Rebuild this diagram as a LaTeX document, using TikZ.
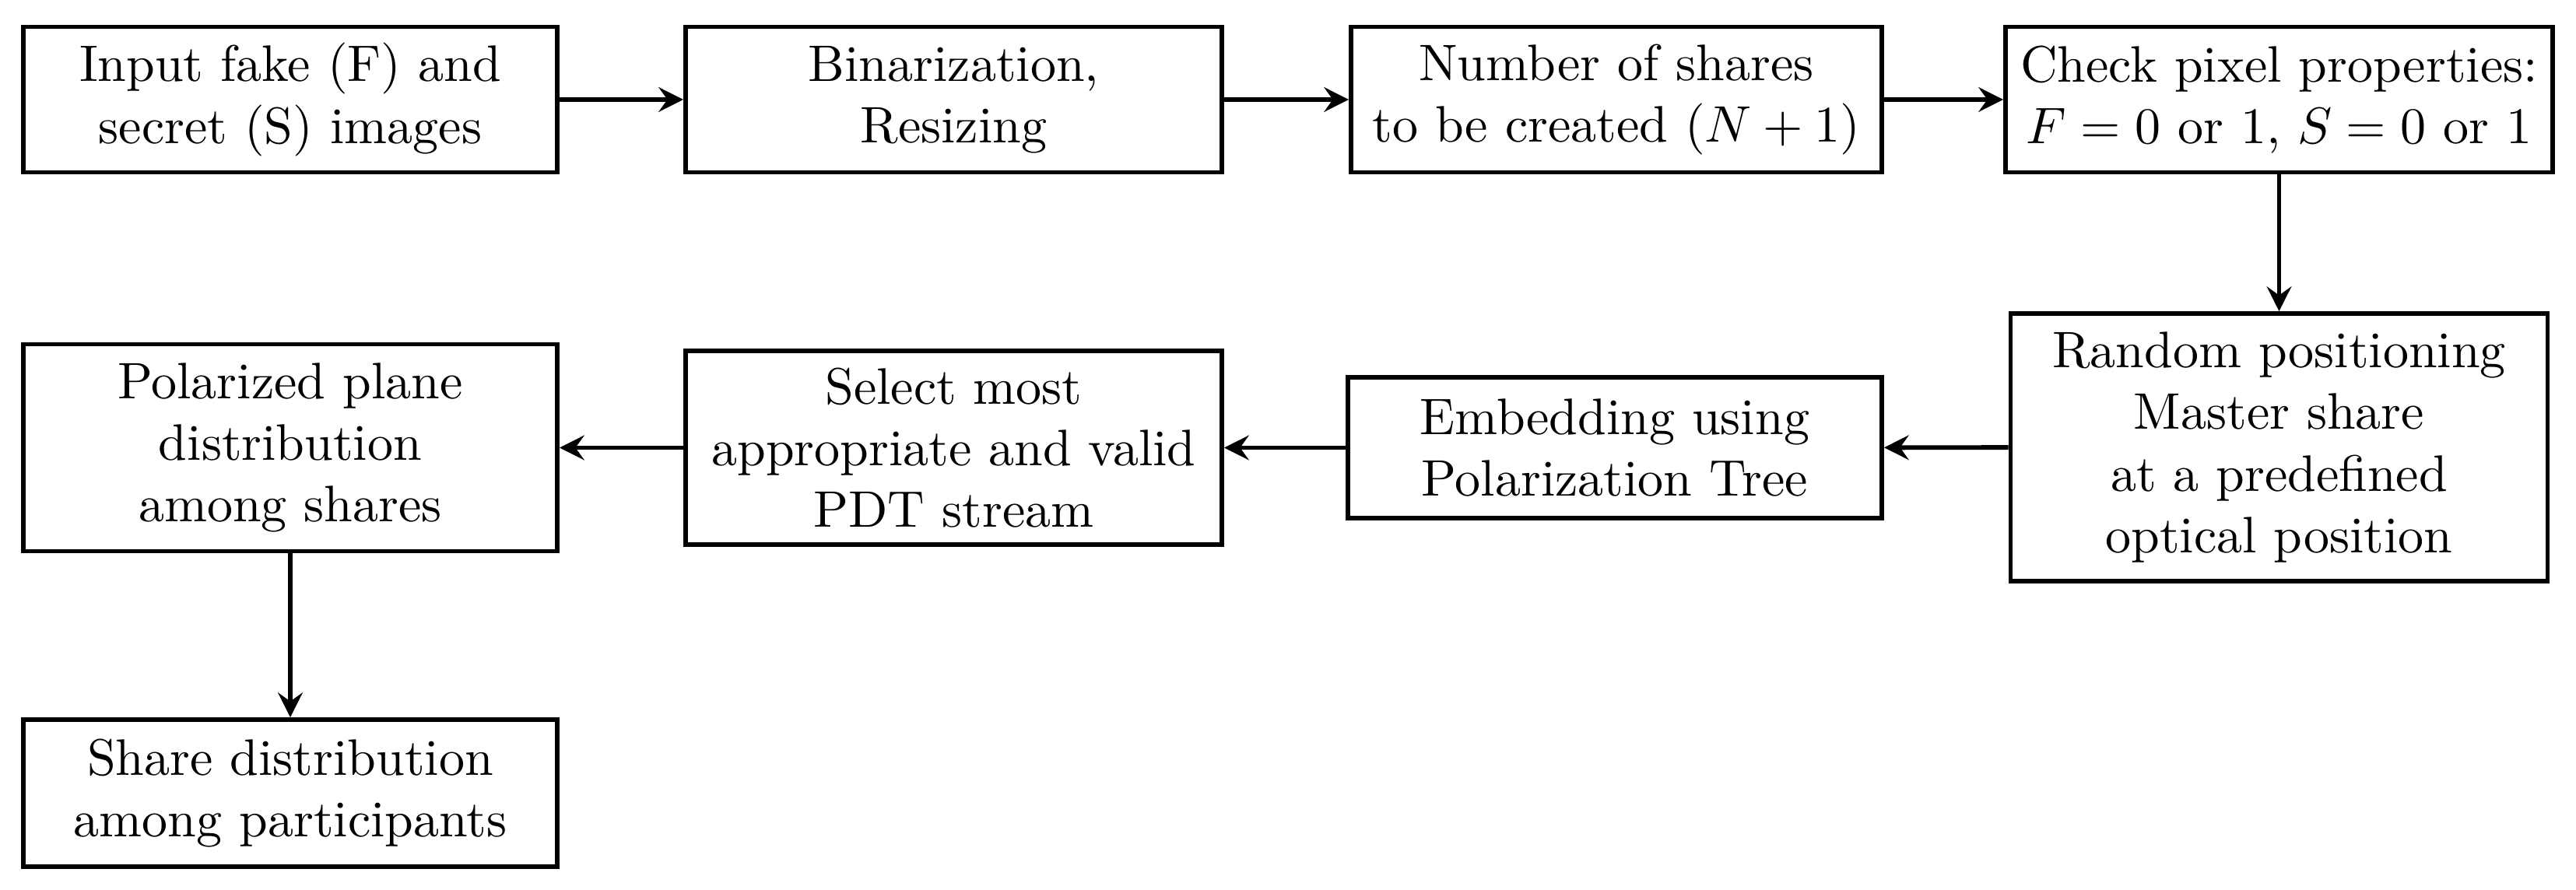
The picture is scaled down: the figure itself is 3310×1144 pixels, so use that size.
\documentclass[tikz,border=0pt]{standalone}
\usetikzlibrary{arrows.meta}
\begin{document}
\begin{tikzpicture}[x=0.005325cm,y=-0.005325cm,
  box/.style={draw, line width=0.9pt, align=center, inner sep=0pt,
    font=\fontsize{10}{12}\selectfont},
  arr/.style={-{Stealth[length=4.8pt,width=4.8pt,inset=1.7pt]}, line width=0.9pt}]
\useasboundingbox (0,0) rectangle (3310,1144);
\node[box, minimum width=686*0.005325cm, minimum height=187*0.005325cm] (b1) at (373,128) {Input fake (F) and\\secret (S) images};
\node[box, minimum width=689*0.005325cm, minimum height=187*0.005325cm] (b2) at (1225.5,128) {Binarization,\\Resizing};
\node[box, minimum width=682*0.005325cm, minimum height=187*0.005325cm] (b3) at (2077,128) {Number of shares\\to be created $(N+1)$};
\node[box, minimum width=703*0.005325cm, minimum height=187*0.005325cm] (b4) at (2928.5,128) {Check pixel properties:\\$F=0$ or 1, $S=0$ or 1};
\node[box, minimum width=690*0.005325cm, minimum height=344*0.005325cm] (b5) at (2928.5,575) {Random positioning\\Master share\\at a predefined\\optical position};
\node[box, minimum width=686*0.005325cm, minimum height=181*0.005325cm] (b6) at (2075,575.5) {Embedding using\\Polarization Tree};
\node[box, minimum width=689*0.005325cm, minimum height=249*0.005325cm] (b7) at (1225.5,575.5) {Select most\\appropriate and valid\\PDT stream};
\node[box, minimum width=686*0.005325cm, minimum height=266*0.005325cm] (b8) at (373,575.5) {Polarized plane\\distribution\\among shares};
\node[box, minimum width=686*0.005325cm, minimum height=189*0.005325cm] (b9) at (373,1019.5) {Share distribution\\among participants};
\draw[arr] (b1) -- (b2);
\draw[arr] (b2) -- (b3);
\draw[arr] (b3) -- (b4);
\draw[arr] (b4) -- (b5);
\draw[arr] (b5) -- (b6);
\draw[arr] (b6) -- (b7);
\draw[arr] (b7) -- (b8);
\draw[arr] (b8) -- (b9);
\end{tikzpicture}
\end{document}
